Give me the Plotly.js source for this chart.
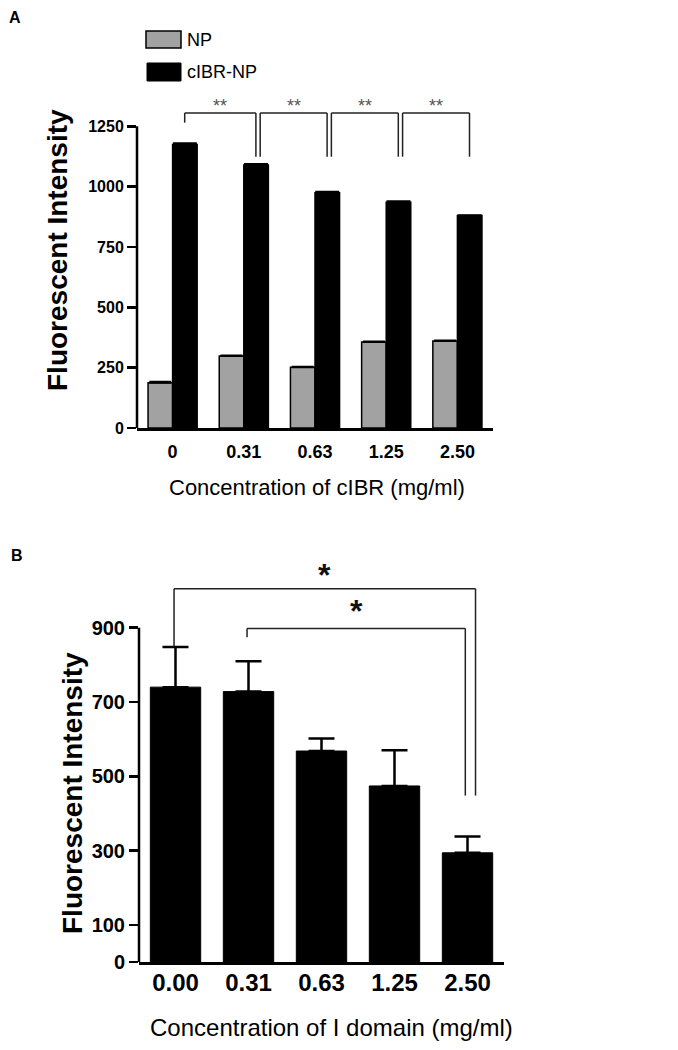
<!DOCTYPE html>
<html>
<head>
<meta charset="utf-8">
<script src="https://cdn.plot.ly/plotly-3.0.1.min.js"></script>
<style>
  html, body { margin: 0; padding: 0; background: #fff; }
  #chart { width: 678px; height: 1050px; }
</style>
</head>
<body>
<div id="chart"></div>
<script>
// panel A: NP vs cIBR-NP uptake
const concA = ['0', '0.31', '0.63', '1.25', '2.50'];
const seriesNames = ['NP', 'cIBR-NP'];
const npVals = [188, 298, 252, 356, 360];
const npErr = [4, 2, 2, 2, 3];
const cibrVals = [1175, 1090, 975, 935, 880];
const cibrErr = [5, 4, 4, 4, 1];
// brackets: [from bar, to bar]
const bracketsA = [[0, 1], [1, 2], [2, 3], [3, 4]];
const starsA = ['**', '**', '**', '**'];

// panel B: I domain inhibition
const concB = ['0.00', '0.31', '0.63', '1.25', '2.50'];
const idomVals = [740, 728, 568, 474, 294];
const idomErr = [108, 82, 34, 96, 44];
const bracketsB = [[0, 4], [1, 4]];
const starsB = ['*', '*'];

const xs = concA.map((_, i) => i);
const FONT = 'Liberation Sans, Arial, sans-serif';
const W = 678, H = 1050;
const px = v => v / W;
const py = v => 1 - v / H;

const traces = [
  {
    type: 'bar', x: xs, y: npVals, name: seriesNames[0],
    marker: { color: '#a2a2a2', line: { color: '#000', width: 1.5 } },
    error_y: { type: 'data', array: npErr, arrayminus: npErr.map(() => 0), symmetric: false, color: '#000', thickness: 2, width: 11 },
    xaxis: 'x', yaxis: 'y', showlegend: false
  },
  {
    type: 'bar', x: xs, y: cibrVals, name: seriesNames[1],
    marker: { color: '#000', line: { color: '#000', width: 1.5 } },
    error_y: { type: 'data', array: cibrErr, arrayminus: cibrErr.map(() => 0), symmetric: false, color: '#000', thickness: 2, width: 12 },
    xaxis: 'x', yaxis: 'y', showlegend: false
  },
  {
    type: 'bar', x: xs, y: idomVals, name: 'I domain',
    marker: { color: '#000', line: { color: '#000', width: 1 } },
    error_y: { type: 'data', array: idomErr, arrayminus: idomErr.map(() => 0), symmetric: false, color: '#000', thickness: 2.5, width: 13 },
    xaxis: 'x2', yaxis: 'y2', showlegend: false
  }
];

const shapes = [];
const annotations = [];
const line = (xref, yref, x0, y0, x1, y1, w, c) => shapes.push({
  type: 'line', xref, yref, x0, y0, x1, y1, line: { color: c || '#000', width: w || 1.5 }
});

// y axis lines drawn only up to the top tick
line('x domain', 'y', 0, 0, 0, 1250, 2.5);
line('x2 domain', 'y2', 0, 0, 0, 900, 2.5);

// panel A brackets (over the cIBR-NP bars)
const off = 0.17;
const tipA = [1265, 1124, 1124, 1124];
bracketsA.forEach(([a, b], i) => {
  const x0 = a + off + (i === 0 ? 0 : 0.06);
  const x1 = b + off;
  const top = 1305;
  line('x', 'y', x0, tipA[i], x0, top, 1.5, '#222');
  line('x', 'y', x0, top, x1, top, 1.5, '#222');
  line('x', 'y', x1, top, x1, 1124, 1.5, '#222');
  annotations.push({
    xref: 'x', yref: 'y', x: (x0 + x1) / 2, y: 1335, text: starsA[i], showarrow: false,
    font: { family: FONT, size: 18, color: '#555' }
  });
});

// panel B brackets
const bTop = [1005, 898];
const bRight = [4.11, 3.97];
bracketsB.forEach(([a, b], i) => {
  const x0 = a - 0.02;
  const x1 = bRight[i];
  const left = idomVals[a] + idomErr[a] + (i === 0 ? 2 : 64);
  line('x2', 'y2', x0, left, x0, bTop[i], 1.5, '#222');
  line('x2', 'y2', x0, bTop[i], x1, bTop[i], 1.5, '#222');
  line('x2', 'y2', x1, bTop[i], x1, 448, 1.5, '#222');
  annotations.push({
    xref: 'x2', yref: 'y2', x: (x0 + x1) / 2, y: bTop[i] + (i === 0 ? 38 : 46), text: starsB[i], showarrow: false,
    font: { family: FONT, size: 32, color: '#111', weight: 'bold' }
  });
});

// legend for panel A
shapes.push({ type: 'rect', xref: 'paper', yref: 'paper', x0: px(146), x1: px(181), y0: py(48), y1: py(31),
  fillcolor: '#a2a2a2', line: { color: '#000', width: 1.5 } });
shapes.push({ type: 'rect', xref: 'paper', yref: 'paper', x0: px(147), x1: px(181), y0: py(81), y1: py(63),
  fillcolor: '#000', line: { color: '#000', width: 1 } });
annotations.push({ xref: 'paper', yref: 'paper', x: px(185), y: py(40), xanchor: 'left', yanchor: 'middle',
  text: seriesNames[0], showarrow: false, font: { family: FONT, size: 18, color: '#000' } });
annotations.push({ xref: 'paper', yref: 'paper', x: px(185), y: py(72), xanchor: 'left', yanchor: 'middle',
  text: seriesNames[1], showarrow: false, font: { family: FONT, size: 18, color: '#000' } });

// titles and panel letters
const txt = (x, y, text, size, weight, angle) => annotations.push({
  xref: 'paper', yref: 'paper', x: px(x), y: py(y), text, showarrow: false,
  xanchor: 'center', yanchor: 'middle', textangle: angle || 0,
  font: { family: FONT, size, color: '#000', weight: weight || 'normal' }
});
txt(57, 250, 'Fluorescent Intensity', 28, 'bold', -90);
txt(317, 488, 'Concentration of cIBR (mg/ml)', 22);
txt(72, 793, 'Fluorescent Intensity', 28, 'bold', -90);
txt(331, 1027, 'Concentration of I domain (mg/ml)', 24);
txt(15, 17, 'A', 16, 'bold');
txt(17, 555, 'B', 16, 'bold');

const layout = {
  width: W, height: H,
  margin: { l: 0, r: 0, t: 0, b: 0 },
  paper_bgcolor: '#fff', plot_bgcolor: '#fff',
  barmode: 'group', bargap: 0.31, bargroupgap: 0,
  showlegend: false,
  font: { family: FONT, color: '#000' },
  xaxis: {
    domain: [px(137), px(493)], anchor: 'y', type: 'linear', range: [-0.5, 4.5],
    tickvals: xs, ticktext: concA, ticks: '', showgrid: false, zeroline: false,
    showline: true, linecolor: '#000', linewidth: 2.5,
    tickfont: { family: FONT, size: 18, weight: 'bold' }, ticklabelstandoff: 6
  },
  yaxis: {
    domain: [py(428), py(72)], anchor: 'x', range: [0, 1475],
    tickvals: [0, 250, 500, 750, 1000, 1250], ticks: 'outside', ticklen: 9, tickwidth: 2.5, tickcolor: '#000',
    showgrid: false, zeroline: false, showline: false,
    tickfont: { family: FONT, size: 16, weight: 'bold' }
  },
  xaxis2: {
    domain: [px(139), px(504)], anchor: 'y2', type: 'linear', range: [-0.5, 4.5],
    tickvals: xs, ticktext: concB, ticks: '', showgrid: false, zeroline: false,
    showline: true, linecolor: '#000', linewidth: 2.5,
    tickfont: { family: FONT, size: 24, weight: 'bold' }, ticklabelstandoff: -2
  },
  yaxis2: {
    domain: [py(962), py(546)], anchor: 'x2', range: [0, 1120],
    tickvals: [0, 100, 300, 500, 700, 900], ticks: 'outside', ticklen: 9, tickwidth: 2.5, tickcolor: '#000',
    showgrid: false, zeroline: false, showline: false,
    tickfont: { family: FONT, size: 20, weight: 'bold' }
  },
  shapes, annotations
};

Plotly.newPlot('chart', traces, layout, { staticPlot: true, displayModeBar: false });
</script>
</body>
</html>
